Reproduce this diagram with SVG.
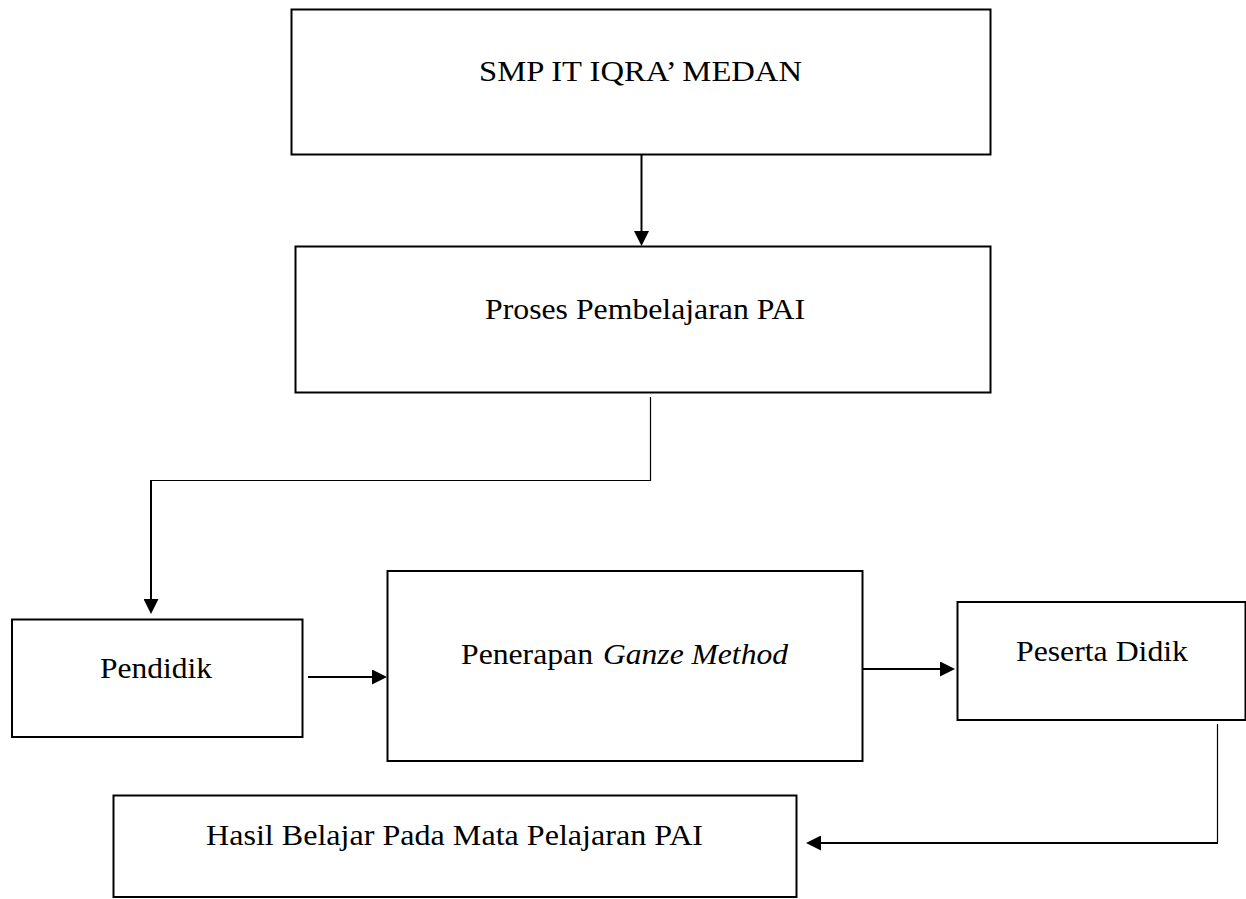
<svg xmlns="http://www.w3.org/2000/svg" width="1246" height="899" viewBox="0 0 1246 899">
<style>
.box{fill:#fff;stroke:#000;stroke-width:2}
.t{font-family:"Liberation Serif","Times New Roman",serif;font-size:30px;fill:#000}
.it{font-style:italic}
.c{fill:none;stroke:#000;stroke-width:2}
.thin{fill:none;stroke:#000;stroke-width:1.2}
</style>
<defs>
<marker id="ah" markerUnits="userSpaceOnUse" viewBox="0 0 15 15" refX="0" refY="7.5" markerWidth="15" markerHeight="15" orient="auto">
<path d="M0,0 L15,7.5 L0,15 z" fill="#000"/>
</marker>
</defs>
<rect width="1246" height="899" fill="#fff"/>
<g id="connectors">
<line class="c" x1="641.5" y1="155" x2="641.5" y2="231" marker-end="url(#ah)"/>
<path class="thin" d="M650.5,397 V480.5 H151"/>
<line class="c" x1="151" y1="480" x2="151" y2="599" marker-end="url(#ah)"/>
<line class="c" x1="308" y1="677" x2="372" y2="677" marker-end="url(#ah)"/>
<line class="c" x1="863" y1="669" x2="940" y2="669" marker-end="url(#ah)"/>
<path class="thin" d="M1217.5,724 V843"/>
<line class="c" x1="1218" y1="843" x2="821" y2="843" marker-end="url(#ah)"/>
</g>
<g id="smp">
<rect class="box" x="291.5" y="9.5" width="699" height="145"/>
<text class="t" x="479" y="81" textLength="323" lengthAdjust="spacingAndGlyphs">SMP IT IQRA’ MEDAN</text>
</g>
<g id="proses">
<rect class="box" x="295.5" y="246.5" width="695" height="146"/>
<text class="t" x="485" y="319" textLength="320" lengthAdjust="spacingAndGlyphs">Proses Pembelajaran PAI</text>
</g>
<g id="pendidik">
<rect class="box" x="12" y="619.5" width="290.5" height="117.5"/>
<text class="t" x="100" y="678" textLength="112" lengthAdjust="spacingAndGlyphs">Pendidik</text>
</g>
<g id="penerapan">
<rect class="box" x="387.5" y="571" width="475" height="190"/>
<text class="t" x="461" y="664" textLength="132" lengthAdjust="spacingAndGlyphs">Penerapan</text>
<text class="t it" x="603" y="664" textLength="185" lengthAdjust="spacingAndGlyphs">Ganze Method</text>
</g>
<g id="peserta">
<rect class="box" x="957.5" y="602" width="288" height="118"/>
<text class="t" x="1016" y="661" textLength="172" lengthAdjust="spacingAndGlyphs">Peserta Didik</text>
</g>
<g id="hasil">
<rect class="box" x="113.5" y="795.5" width="683" height="101.5"/>
<text class="t" x="206" y="845" textLength="497" lengthAdjust="spacingAndGlyphs">Hasil Belajar Pada Mata Pelajaran PAI</text>
</g>
</svg>
